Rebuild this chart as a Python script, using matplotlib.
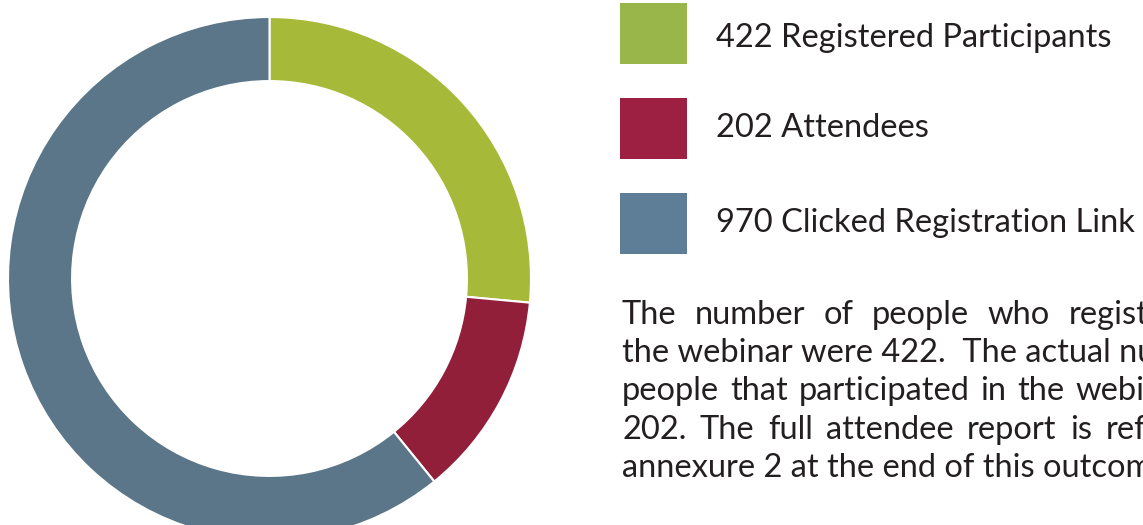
import matplotlib
matplotlib.use("Agg")
import matplotlib.pyplot as plt
from matplotlib.patches import Rectangle

labels = ["Registered Participants", "Attendees", "Clicked Registration Link"]
values = [422, 202, 970]
ring_colors = ["#A7B938", "#921F3A", "#5A7688"]
legend_colors = ["#99B64B", "#9D1F41", "#5E7D96"]
para_lines = [
    "The number of people who registered for",
    "the webinar were 422.  The actual number of",
    "people that participated in the webinar were",
    "202. The full attendee report is reflected in",
    "annexure 2 at the end of this outcome report.",
]

W, H = 1143, 525
FONT = "Lato"
FS = 23.5
TXT = "#231F20"
fig = plt.figure(figsize=(W / 100, H / 100), dpi=100)
fig.patch.set_facecolor("white")

# donut
cx, cy, R = 269.5, 278.5, 261.5
ax = fig.add_axes([(cx - R) / W, (H - cy - R) / H, 2 * R / W, 2 * R / H])
ax.pie(values, colors=ring_colors, startangle=90, counterclock=False,
       wedgeprops=dict(width=0.245, edgecolor="white", linewidth=1.5))
ax.set_xlim(-1, 1)
ax.set_ylim(-1, 1)
ax.set_aspect("equal")
ax.axis("off")

# overlay axes in pixel coords (y downward)
ov = fig.add_axes([0, 0, 1, 1])
ov.set_xlim(0, W)
ov.set_ylim(H, 0)
ov.axis("off")

sq_top = [3, 98, 193]
baselines = [47, 137, 232]
for i, (lab, v) in enumerate(zip(labels, values)):
    ov.add_patch(Rectangle((620, sq_top[i]), 67, 61, color=legend_colors[i], lw=0))
    ov.text(716, baselines[i], f"{v} {lab}", fontsize=FS, family=FONT,
            color=TXT, va="baseline", ha="left")

# justified paragraph
fig.canvas.draw()
r = fig.canvas.get_renderer()

def width_of(s):
    t = ov.text(0, 0, s, fontsize=FS, family=FONT)
    bb = t.get_window_extent(renderer=r)
    t.remove()
    return bb.width

box_w = width_of(para_lines[1]) + 5
para_base = [324, 362, 400, 439, 477]
x0 = 622
for li, line in enumerate(para_lines):
    if li in (1, len(para_lines) - 1):
        ov.text(x0, para_base[li], line, fontsize=FS, family=FONT,
                color=TXT, va="baseline", ha="left")
        continue
    words = line.split(" ")
    ws = [width_of(w) for w in words]
    gap = (box_w - sum(ws)) / (len(words) - 1)
    x = x0
    for w, wd in zip(words, ws):
        ov.text(x, para_base[li], w, fontsize=FS, family=FONT,
                color=TXT, va="baseline", ha="left")
        x += wd + gap

fig.savefig("out.png", dpi=100, facecolor="white")
